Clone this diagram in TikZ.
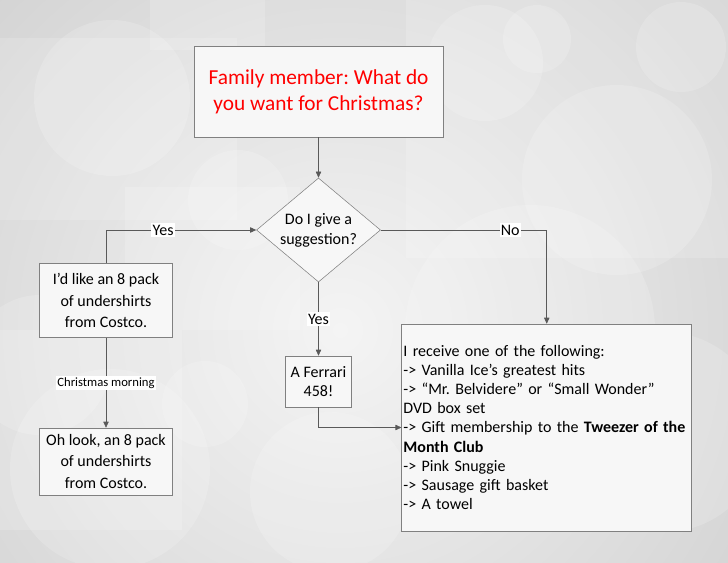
\documentclass[tikz,border=0pt]{standalone}
\usepackage{fontspec}
\setmainfont{Carlito}
\frenchspacing
\usetikzlibrary{arrows.meta,
                positioning,
                shapes.geometric}
\definecolor{boxline}{RGB}{128,128,128}
\definecolor{boxfill}{RGB}{247,247,247}
\definecolor{wire}{RGB}{89,89,89}
\definecolor{bgdark}{RGB}{196,196,196}
\definecolor{bglight}{RGB}{244,244,244}

\begin{document}
\begin{tikzpicture}[
    x = 0.75pt, y = -0.75pt,
  box/.style = {rectangle, draw=boxline, fill=boxfill, inner sep=0pt,
                align=center, font=\fontsize{12}{16}\selectfont},
  ask/.style = {diamond, draw=boxline, fill=boxfill, aspect=1.2,
                inner sep=0pt, align=center,
                font=\fontsize{12}{15}\selectfont},
  lbl/.style = {fill=white, inner sep=1pt,
                font=\fontsize{12}{14}\selectfont},
  arr/.style = {draw=wire, -{Triangle[length=4.5pt, width=4pt]}},
  bub/.style = {fill=white, opacity=0.17},
                    ]
\useasboundingbox (0,0) rectangle (728,563);
% background
    \begin{scope}
\clip (0,0) rectangle (728,563);
\shade[inner color=bglight, outer color=bgdark] (340,330) circle (720);
\foreach \x/\y/\r in {112/98/78, 238/200/50, 485/63/58, 537/39/34,
                      681/47/45, 617/180/95, 40/365/70, 205/404/43,
                      110/469/100, 330/492/80, 664/432/100, 530/330/125}
    \fill[bub] (\x,\y) circle (\r);
\foreach \a/\b/\c/\d in {0/38/237/220, 150/0/265/50, 125/187/300/330,
                         406/0/728/258, 0/330/182/530}
    \fill[bub] (\a,\b) rectangle (\c,\d);
    \end{scope}
% nodes
\node[box, minimum width=186.75pt, minimum height=68.25pt, text=red,
      font=\fontsize{16}{19.5}\selectfont]
      (title) at (318.5,91.5) {Family member: What do\\
                               you want for Christmas?};
\node[ask, minimum width=93pt, minimum height=78pt]
      (ask) at (318.5,230) {Do I give a\\ suggestion?};
\node[box, minimum width=100pt, minimum height=55.5pt]
      (like) at (106,300.5) {I’d like an 8 pack\\ of undershirts\\ from Costco.};
\node[box, minimum width=100pt, minimum height=50.25pt]
      (look) at (106,461.5) {Oh look, an 8 pack\\ of undershirts\\ from Costco.};
\node[box, minimum width=49.5pt, minimum height=38.25pt,
      font=\fontsize{12}{14}\selectfont]
      (ferrari) at (318.5,381.5) {A Ferrari\\ 458!};
\node[box, minimum height=155.25pt, align=left, text width=215pt,
      inner xsep=1.25pt, font=\fontsize{12}{14.4}\selectfont]
      (gifts) at (546.75,427.5) {I receive one of the following:\\
                                 -> Vanilla Ice’s greatest hits\\
                                 -> “Mr. Belvidere” or “Small Wonder”\\
                                 DVD box set\\
                                 -> Gift membership to the \textbf{Tweezer of the}\\
                                 \textbf{Month Club}\\
                                 -> Pink Snuggie\\
                                 -> Sausage gift basket\\
                                 -> A towel};
% connectors
\draw[arr] (title) -- (ask);
\draw[arr] (like.north) |- node[lbl, pos=0.69] {Yes} (ask.west);
\draw[arr] (ask.east) -| node[lbl, pos=0.39] {No} (gifts.north);
\draw[arr] (ask.south) -- node[lbl] {Yes} (ferrari.north);
\draw[arr] (ferrari.south) |- (gifts.west);
\draw[arr] (like.south) -- node[lbl, font=\fontsize{9.5}{11}\selectfont]
      {Christmas morning} (look.north);
\end{tikzpicture}
\end{document}
